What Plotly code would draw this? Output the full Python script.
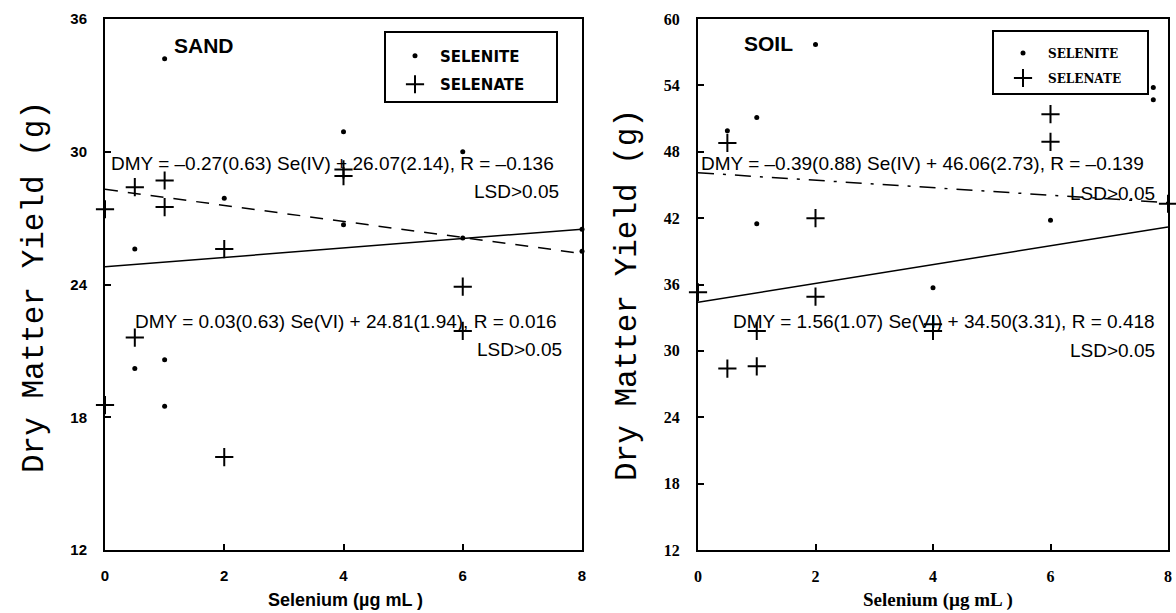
import plotly.graph_objects as go

W, H = 1176, 613

# ---------------- data ----------------
sand_selenite_x = [0.5, 0.5, 1, 1, 1, 2, 4, 4, 6, 6, 8, 8]
sand_selenite_y = [25.6, 20.2, 34.2, 20.6, 18.5, 27.9, 30.9, 26.7, 26.1, 30.0, 26.5, 25.5]
sand_selenate_x = [0, 0, 0.5, 0.5, 1, 1, 2, 2, 4, 4, 6, 6]
sand_selenate_y = [27.4, 18.55, 28.4, 21.6, 28.7, 27.5, 25.6, 16.2, 29.2, 28.9, 23.9, 21.9]

soil_selenite_x = [0.5, 1, 1, 2, 4, 6, 7.75, 7.75]
soil_selenite_y = [49.9, 51.1, 41.5, 57.7, 35.7, 41.8, 53.8, 52.7]
soil_selenate_x = [0, 0.5, 0.5, 1, 1, 2, 2, 4, 4, 6, 6, 8]
soil_selenate_y = [35.3, 48.8, 28.4, 31.8, 28.6, 42.0, 34.9, 32.4, 31.8, 51.4, 48.9, 43.3]

fit_x = [0, 8]
sand_selenite_fit = [28.3, 25.4]
sand_selenate_fit = [24.8, 26.5]
soil_selenite_fit = [46.1, 43.4]
soil_selenate_fit = [34.4, 41.2]

x_ticks = [0, 2, 4, 6, 8]
sand_y_ticks = [12, 18, 24, 30, 36]
soil_y_ticks = [12, 18, 24, 30, 36, 42, 48, 54, 60]

series_names = ["SELENITE", "SELENATE"]
sand_eq_iv = "DMY = \u20130.27(0.63) Se(IV) + 26.07(2.14), R = \u20130.136"
sand_eq_vi = "DMY = 0.03(0.63) Se(VI) + 24.81(1.94), R = 0.016"
soil_eq_iv = "DMY = \u20130.39(0.88) Se(IV) + 46.06(2.73), R = \u20130.139"
soil_eq_vi = "DMY = 1.56(1.07) Se(VI) + 34.50(3.31), R = 0.418"
lsd_text = "LSD>0.05"
y_title = "Dry Matter Yield (g)"
x_title = "Selenium (\u00b5g mL )"


def px(x):
    return x / W


def py(y):
    return 1 - y / H


PAD = "\u00a0" * 5  # invisible padding that widens the legend boxes

fig = go.Figure()

dot = dict(symbol="circle", size=5, color="black")
plus = dict(symbol="cross-thin", size=13, color="black", line=dict(color="black", width=2))

# SAND panel
fig.add_trace(go.Scatter(x=fit_x, y=sand_selenite_fit, mode="lines", xaxis="x", yaxis="y",
                         line=dict(color="black", width=1.5, dash="13px,10px"), showlegend=False))
fig.add_trace(go.Scatter(x=fit_x, y=sand_selenate_fit, mode="lines", xaxis="x", yaxis="y",
                         line=dict(color="black", width=1.5), showlegend=False))
fig.add_trace(go.Scatter(x=sand_selenite_x, y=sand_selenite_y, mode="markers", name=series_names[0] + PAD,
                         xaxis="x", yaxis="y", marker=dot, cliponaxis=False,
                         legend="legend", legendgroup="a"))
fig.add_trace(go.Scatter(x=sand_selenate_x, y=sand_selenate_y, mode="markers", name=series_names[1] + PAD,
                         xaxis="x", yaxis="y", marker=plus, cliponaxis=False,
                         legend="legend", legendgroup="b"))

# SOIL panel
fig.add_trace(go.Scatter(x=fit_x, y=soil_selenite_fit, mode="lines", xaxis="x2", yaxis="y2",
                         line=dict(color="black", width=1.5, dash="16px,9px,3px,9px"), showlegend=False))
fig.add_trace(go.Scatter(x=fit_x, y=soil_selenate_fit, mode="lines", xaxis="x2", yaxis="y2",
                         line=dict(color="black", width=1.5), showlegend=False))
fig.add_trace(go.Scatter(x=soil_selenite_x, y=soil_selenite_y, mode="markers", name=series_names[0] + PAD,
                         xaxis="x2", yaxis="y2", marker=dot, cliponaxis=False,
                         legend="legend2", legendgroup="c"))
fig.add_trace(go.Scatter(x=soil_selenate_x, y=soil_selenate_y, mode="markers", name=series_names[1] + PAD,
                         xaxis="x2", yaxis="y2", marker=plus, cliponaxis=False,
                         legend="legend2", legendgroup="d"))

sans_tick = dict(family="Liberation Sans, Arial", size=15, color="black", weight="bold")
serif_tick = dict(family="Liberation Serif, serif", size=16, color="black", weight="bold")

ax_common = dict(showline=True, linecolor="black", linewidth=2, mirror=True, showgrid=False,
                 zeroline=False, ticks="inside", ticklen=6, tickwidth=2, tickcolor="black",
                 automargin=False)

legend_title = dict(text="\u00a0", font=dict(size=5))

fig.update_layout(
    width=W, height=H,
    margin=dict(l=0, r=0, t=0, b=0, autoexpand=False),
    paper_bgcolor="white", plot_bgcolor="white",
    xaxis=dict(domain=[px(105), px(582)], range=[0, 8], tickvals=x_ticks, anchor="y",
               tickfont=sans_tick, ticklabelstandoff=11, **ax_common),
    yaxis=dict(domain=[py(550), py(19)], range=[12, 36], tickvals=sand_y_ticks, anchor="x",
               tickfont=sans_tick, ticklabelstandoff=13, **ax_common),
    xaxis2=dict(domain=[px(698), px(1168)], range=[0, 8], tickvals=x_ticks, anchor="y2",
                tickfont=serif_tick, ticklabelstandoff=11, **ax_common),
    yaxis2=dict(domain=[py(550), py(19)], range=[12, 60], tickvals=soil_y_ticks, anchor="x2",
                tickfont=serif_tick, ticklabelstandoff=13, **ax_common),
    legend=dict(x=px(384), y=py(31), xanchor="left", yanchor="top", bgcolor="white",
                bordercolor="black", borderwidth=2, tracegroupgap=6, indentation=4, itemwidth=40,
                title=legend_title,
                font=dict(family="DejaVu Sans", size=15, color="black", weight="bold")),
    legend2=dict(x=px(992), y=py(30), xanchor="left", yanchor="top", bgcolor="white",
                 bordercolor="black", borderwidth=2, tracegroupgap=6, indentation=4, itemwidth=40,
                 title=legend_title,
                 font=dict(family="DejaVu Serif", size=12, color="black", weight="bold")),
)

eq_font = dict(family="Liberation Sans, Arial", size=19, color="black")
annotations = [
    dict(text="SAND", x=px(173), y=py(45), xanchor="left", yanchor="middle",
         font=dict(family="Liberation Sans, Arial", size=21, color="black", weight="bold")),
    dict(text="SOIL", x=px(743), y=py(44), xanchor="left", yanchor="middle",
         font=dict(family="Liberation Sans, Arial", size=21, color="black", weight="bold")),
    dict(text=sand_eq_iv, x=px(110), y=py(163), xanchor="left", yanchor="middle", font=eq_font),
    dict(text=lsd_text, x=px(560), y=py(192), xanchor="right", yanchor="middle", font=eq_font),
    dict(text=sand_eq_vi, x=px(134), y=py(321), xanchor="left", yanchor="middle", font=eq_font),
    dict(text=lsd_text, x=px(563), y=py(349), xanchor="right", yanchor="middle", font=eq_font),
    dict(text=soil_eq_iv, x=px(700), y=py(163), xanchor="left", yanchor="middle", font=eq_font),
    dict(text=lsd_text, x=px(1156), y=py(193), xanchor="right", yanchor="middle", font=eq_font),
    dict(text=soil_eq_vi, x=px(732), y=py(321), xanchor="left", yanchor="middle", font=eq_font),
    dict(text=lsd_text, x=px(1156), y=py(350), xanchor="right", yanchor="middle", font=eq_font),
    dict(text=y_title, x=px(35), y=py(287), xanchor="center", yanchor="middle", textangle=-90,
         font=dict(family="Liberation Mono, Courier New, monospace", size=31, color="black")),
    dict(text=y_title, x=px(627), y=py(295), xanchor="center", yanchor="middle", textangle=-90,
         font=dict(family="Liberation Mono, Courier New, monospace", size=31, color="black")),
    dict(text=x_title, x=px(345), y=py(600), xanchor="center", yanchor="middle",
         font=dict(family="Liberation Sans, Arial", size=18, color="black", weight="bold")),
    dict(text=x_title, x=px(938), y=py(600), xanchor="center", yanchor="middle",
         font=dict(family="Liberation Serif, serif", size=19, color="black", weight="bold")),
]
for a in annotations:
    a.update(xref="paper", yref="paper", showarrow=False, borderpad=0)
fig.update_layout(annotations=annotations)

fig.write_html("out.html", config={"displayModeBar": False},
               post_script="document.body.style.margin='0px';document.body.style.overflow='hidden';")
